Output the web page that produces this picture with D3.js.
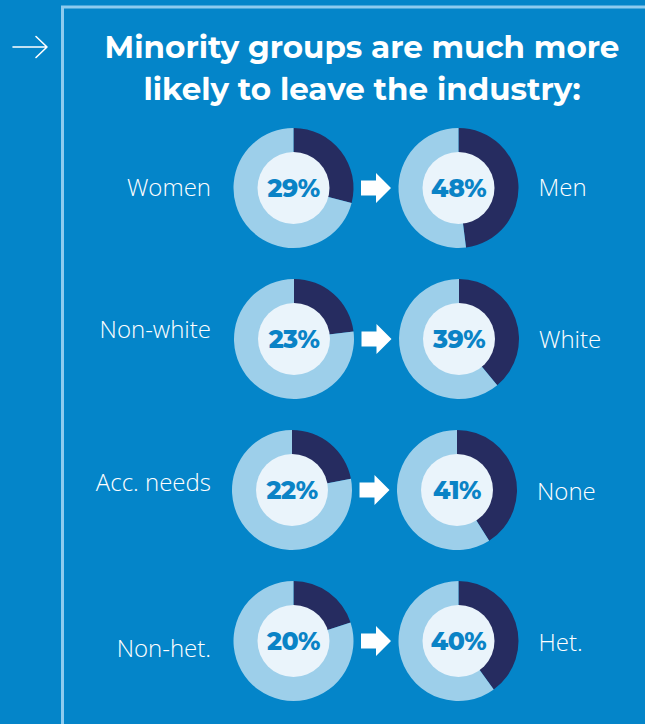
<!DOCTYPE html>
<html>
<head>
<meta charset="utf-8">
<script src="https://cdn.jsdelivr.net/npm/d3@7"></script>
<style>
  html, body { margin: 0; padding: 0; background: #0485c9; }
  svg { display: block; }
</style>
</head>
<body>
<svg id="chart" width="645" height="724"></svg>
<script>
// Share of each group that has left the industry
const minorityGroups = ["Women", "Non-white", "Acc. needs", "Non-het."];
const minorityValues = [29, 23, 22, 20];
const majorityGroups = ["Men", "White", "None", "Het."];
const majorityValues = [48, 39, 41, 40];
const titleLines = ["Minority groups are much more", "likely to leave the industry:"];

const W = 645, H = 724;
const colors = {
  bg: "#0485c9",
  frame: "#8ecbee",
  dark: "#262c60",
  light: "#9dcfea",
  hole: "#eaf4fb",
  pct: "#0a83c6",
  white: "#ffffff"
};

const svg = d3.select("#chart");
svg.append("rect").attr("width", W).attr("height", H).attr("fill", colors.bg);

// frame running off the right and bottom edges
svg.append("rect")
  .attr("x", 62.5).attr("y", 7)
  .attr("width", 700).attr("height", 800)
  .attr("fill", "none").attr("stroke", colors.frame).attr("stroke-width", 3);

// small arrow in the left margin
svg.append("path")
  .attr("d", "M13,47 H47 M36,36.5 L47,47 L36,57.5")
  .attr("fill", "none").attr("stroke", colors.white)
  .attr("stroke-width", 1.6).attr("stroke-linecap", "round").attr("stroke-linejoin", "round");

// title
const title = svg.append("text")
  .attr("x", 362).attr("text-anchor", "middle")
  .attr("font-family", "Montserrat, 'Open Sans', sans-serif")
  .attr("font-weight", 700).attr("font-size", 31)
  .attr("fill", colors.white);
title.selectAll("tspan").data(titleLines).join("tspan")
  .attr("x", 362).attr("y", (d, i) => 58 + i * 42)
  .text(d => d);

// layout scales
const rows = d3.scalePoint().domain(d3.range(minorityGroups.length)).range([188, 641]);
const cols = d3.scaleOrdinal().domain(["minority", "majority"]).range([293.5, 458.5]);
const rowShift = [0, 0.5, -1.5, 0];           // slight horizontal offsets per row
const leftLabelDy = [0, -9, -7, 8];
const rightLabelDy = [0, 1, 2, 2];

const outerR = 60, innerR = 36;
const pie = d3.pie().sort(null).value(d => d);
const ringArc = d3.arc().innerRadius(innerR - 1).outerRadius(outerR);

function donut(g, value) {
  const slices = pie([value, 100 - value]);
  g.selectAll("path").data(slices).join("path")
    .attr("d", ringArc)
    .attr("fill", (d, i) => i === 0 ? colors.dark : colors.light);
  g.append("circle").attr("r", innerR).attr("fill", colors.hole);
  g.append("text")
    .attr("text-anchor", "middle").attr("dy", "0.36em")
    .attr("font-family", "Montserrat, 'Open Sans', sans-serif")
    .attr("font-weight", 800).attr("font-size", 25)
    .attr("letter-spacing", -0.5)
    .attr("fill", colors.pct)
    .text(value + "%");
}

const labelFont = { family: "'Open Sans', sans-serif", weight: 300, size: 24 };

minorityGroups.forEach((name, i) => {
  const cy = rows(i);
  const lx = cols("minority") + rowShift[i];
  const rx = cols("majority") + rowShift[i];

  donut(svg.append("g").attr("transform", `translate(${lx},${cy})`), minorityValues[i]);
  donut(svg.append("g").attr("transform", `translate(${rx},${cy})`), majorityValues[i]);

  // block arrow between the two rings
  const ax = (lx + rx) / 2;
  svg.append("path")
    .attr("transform", `translate(${ax},${cy})`)
    .attr("d", "M-15,-7.5 H0 V-15 L15,0 L0,15 V7.5 H-15 Z")
    .attr("fill", colors.white);

  svg.append("text")
    .attr("x", 211).attr("y", cy + leftLabelDy[i]).attr("dy", "0.35em")
    .attr("text-anchor", "end")
    .attr("font-family", labelFont.family).attr("font-weight", labelFont.weight)
    .attr("font-size", labelFont.size).attr("fill", colors.white)
    .text(name);

  svg.append("text")
    .attr("x", rx + 80).attr("y", cy + rightLabelDy[i]).attr("dy", "0.35em")
    .attr("text-anchor", "start")
    .attr("font-family", labelFont.family).attr("font-weight", labelFont.weight)
    .attr("font-size", labelFont.size).attr("fill", colors.white)
    .text(majorityGroups[i]);
});
</script>
</body>
</html>
